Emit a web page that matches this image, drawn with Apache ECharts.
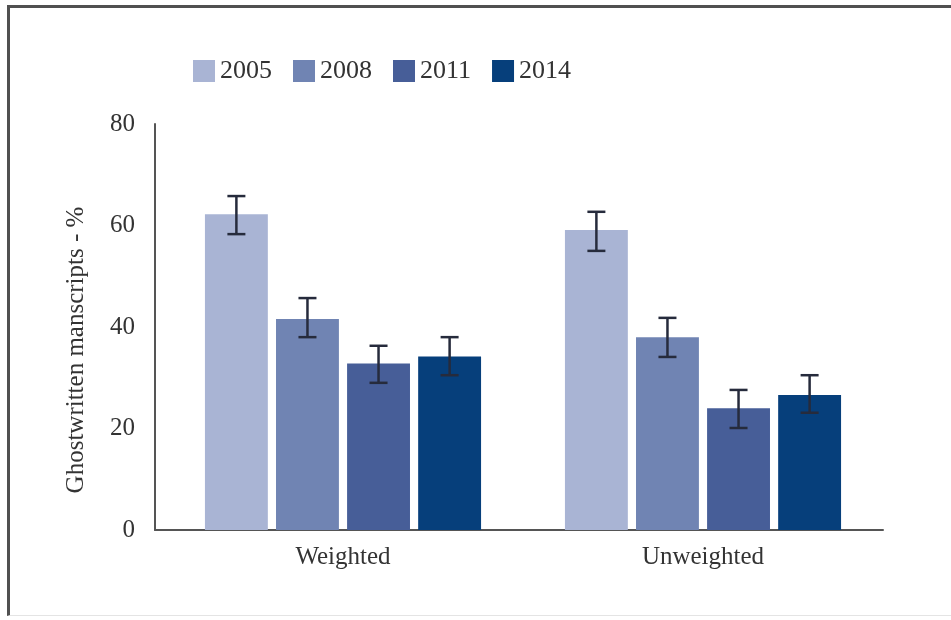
<!DOCTYPE html>
<html>
<head>
<meta charset="utf-8">
<script src="https://cdn.jsdelivr.net/npm/echarts@6/dist/echarts.min.js"></script>
<style>
  html, body { margin: 0; padding: 0; background: #fff; }
  #chart { position: absolute; left: 0; top: 0; width: 951px; height: 620px; }
  #frame { position: absolute; left: 7px; top: 5px; width: 944px; height: 611px;
           border-top: 3px solid #505050; border-left: 3px solid #505050;
           border-bottom: 1px solid #e4e4e4; box-sizing: border-box; pointer-events: none; }
</style>
</head>
<body>
<div id="chart"></div>
<div id="frame"></div>
<script>
// ---- data ----
const categories = ['Weighted', 'Unweighted'];
const years = ['2005', '2008', '2011', '2014'];
const values2005 = [62.2, 59.1];
const values2008 = [41.6, 38.0];
const values2011 = [32.8, 24.0];
const values2014 = [34.2, 26.6];
const errLow2005 = [58.3, 55.0];
const errHigh2005 = [65.8, 62.7];
const errLow2008 = [38.0, 34.1];
const errHigh2008 = [45.7, 41.8];
const errLow2011 = [29.0, 20.1];
const errHigh2011 = [36.3, 27.6];
const errLow2014 = [30.5, 23.1];
const errHigh2014 = [38.0, 30.5];
const yTicks = [0, 20, 40, 60, 80];

const colors = ['#a9b4d4', '#7084b3', '#475e98', '#063f7b'];
const values = [values2005, values2008, values2011, values2014];
const lows = [errLow2005, errLow2008, errLow2011, errLow2014];
const highs = [errHigh2005, errHigh2008, errHigh2011, errHigh2014];

const CAT_GAP = 0.233;  // barCategoryGap
const BAR_GAP = 0.13;   // barGap
const nBars = years.length;
const FONT = '"Liberation Serif", "DejaVu Serif", serif';
const Y_MIN = yTicks[0], Y_MAX = yTicks[yTicks.length - 1];

const chart = echarts.init(document.getElementById('chart'));

const series = [];
years.forEach((y, i) => {
  series.push({
    name: y,
    type: 'bar',
    xAxisIndex: 0,
    yAxisIndex: 0,
    data: values[i],
    barCategoryGap: (CAT_GAP * 100) + '%',
    barGap: (BAR_GAP * 100) + '%',
    itemStyle: { color: colors[i] },
    emphasis: { disabled: true },
    z: 2
  });
});
years.forEach((y, i) => {
  series.push({
    name: y + ' error',
    type: 'custom',
    xAxisIndex: 0,
    yAxisIndex: 0,
    data: categories.map((c, k) => [k, lows[i][k], highs[i][k]]),
    encode: { x: 0, y: [1, 2] },
    z: 5,
    silent: true,
    renderItem: function (params, api) {
      const xi = api.value(0);
      const lowP = api.coord([xi, api.value(1)]);
      const highP = api.coord([xi, api.value(2)]);
      const band = api.size([1, 0])[0];
      const groupW = band * (1 - CAT_GAP);
      const barW = groupW / (nBars + (nBars - 1) * BAR_GAP);
      const cx = lowP[0] - groupW / 2 + barW / 2 + i * barW * (1 + BAR_GAP);
      const cap = 9;
      const style = { stroke: '#262b3c', lineWidth: 2.5 };
      return {
        type: 'group',
        children: [
          { type: 'line', shape: { x1: cx, y1: highP[1], x2: cx, y2: lowP[1] }, style: style },
          { type: 'line', shape: { x1: cx - cap, y1: highP[1], x2: cx + cap, y2: highP[1] }, style: style },
          { type: 'line', shape: { x1: cx - cap, y1: lowP[1], x2: cx + cap, y2: lowP[1] }, style: style }
        ]
      };
    }
  });
});

chart.setOption({
  animation: false,
  backgroundColor: '#ffffff',
  legend: {
    data: years,
    left: 188,
    top: 53,
    itemWidth: 22,
    itemHeight: 22,
    itemGap: 21,
    icon: 'rect',
    textStyle: { fontFamily: FONT, fontSize: 26, color: '#333' }
  },
  grid: [
    { left: 163, right: 68, top: 124, bottom: 90, containLabel: false },
    { left: 155, right: 68, top: 124, bottom: 90, containLabel: false }
  ],
  xAxis: [
    {
      type: 'category',
      gridIndex: 0,
      data: categories,
      axisLine: { show: false },
      axisTick: { show: false },
      axisLabel: { fontFamily: FONT, fontSize: 25, color: '#333', margin: 15 }
    },
    {
      type: 'value',
      gridIndex: 1,
      min: 0, max: 1,
      axisLine: { show: true, onZero: false, lineStyle: { color: '#555', width: 2 } },
      axisTick: { show: false },
      axisLabel: { show: false },
      splitLine: { show: false }
    }
  ],
  yAxis: [
    {
      type: 'value',
      gridIndex: 0,
      min: Y_MIN, max: Y_MAX, interval: 20,
      show: false
    },
    {
      type: 'value',
      gridIndex: 1,
      min: Y_MIN, max: Y_MAX, interval: 20,
      name: 'Ghostwritten manscripts - %',
      nameLocation: 'middle',
      nameGap: 66,
      nameTextStyle: { fontFamily: FONT, fontSize: 25, color: '#333', padding: [0, 46, 0, 0] },
      axisLine: { show: true, lineStyle: { color: '#555', width: 2 } },
      axisTick: { show: false },
      splitLine: { show: false },
      axisLabel: { fontFamily: FONT, fontSize: 25, color: '#333', margin: 20 }
    }
  ],
  series: series
});
</script>
</body>
</html>
